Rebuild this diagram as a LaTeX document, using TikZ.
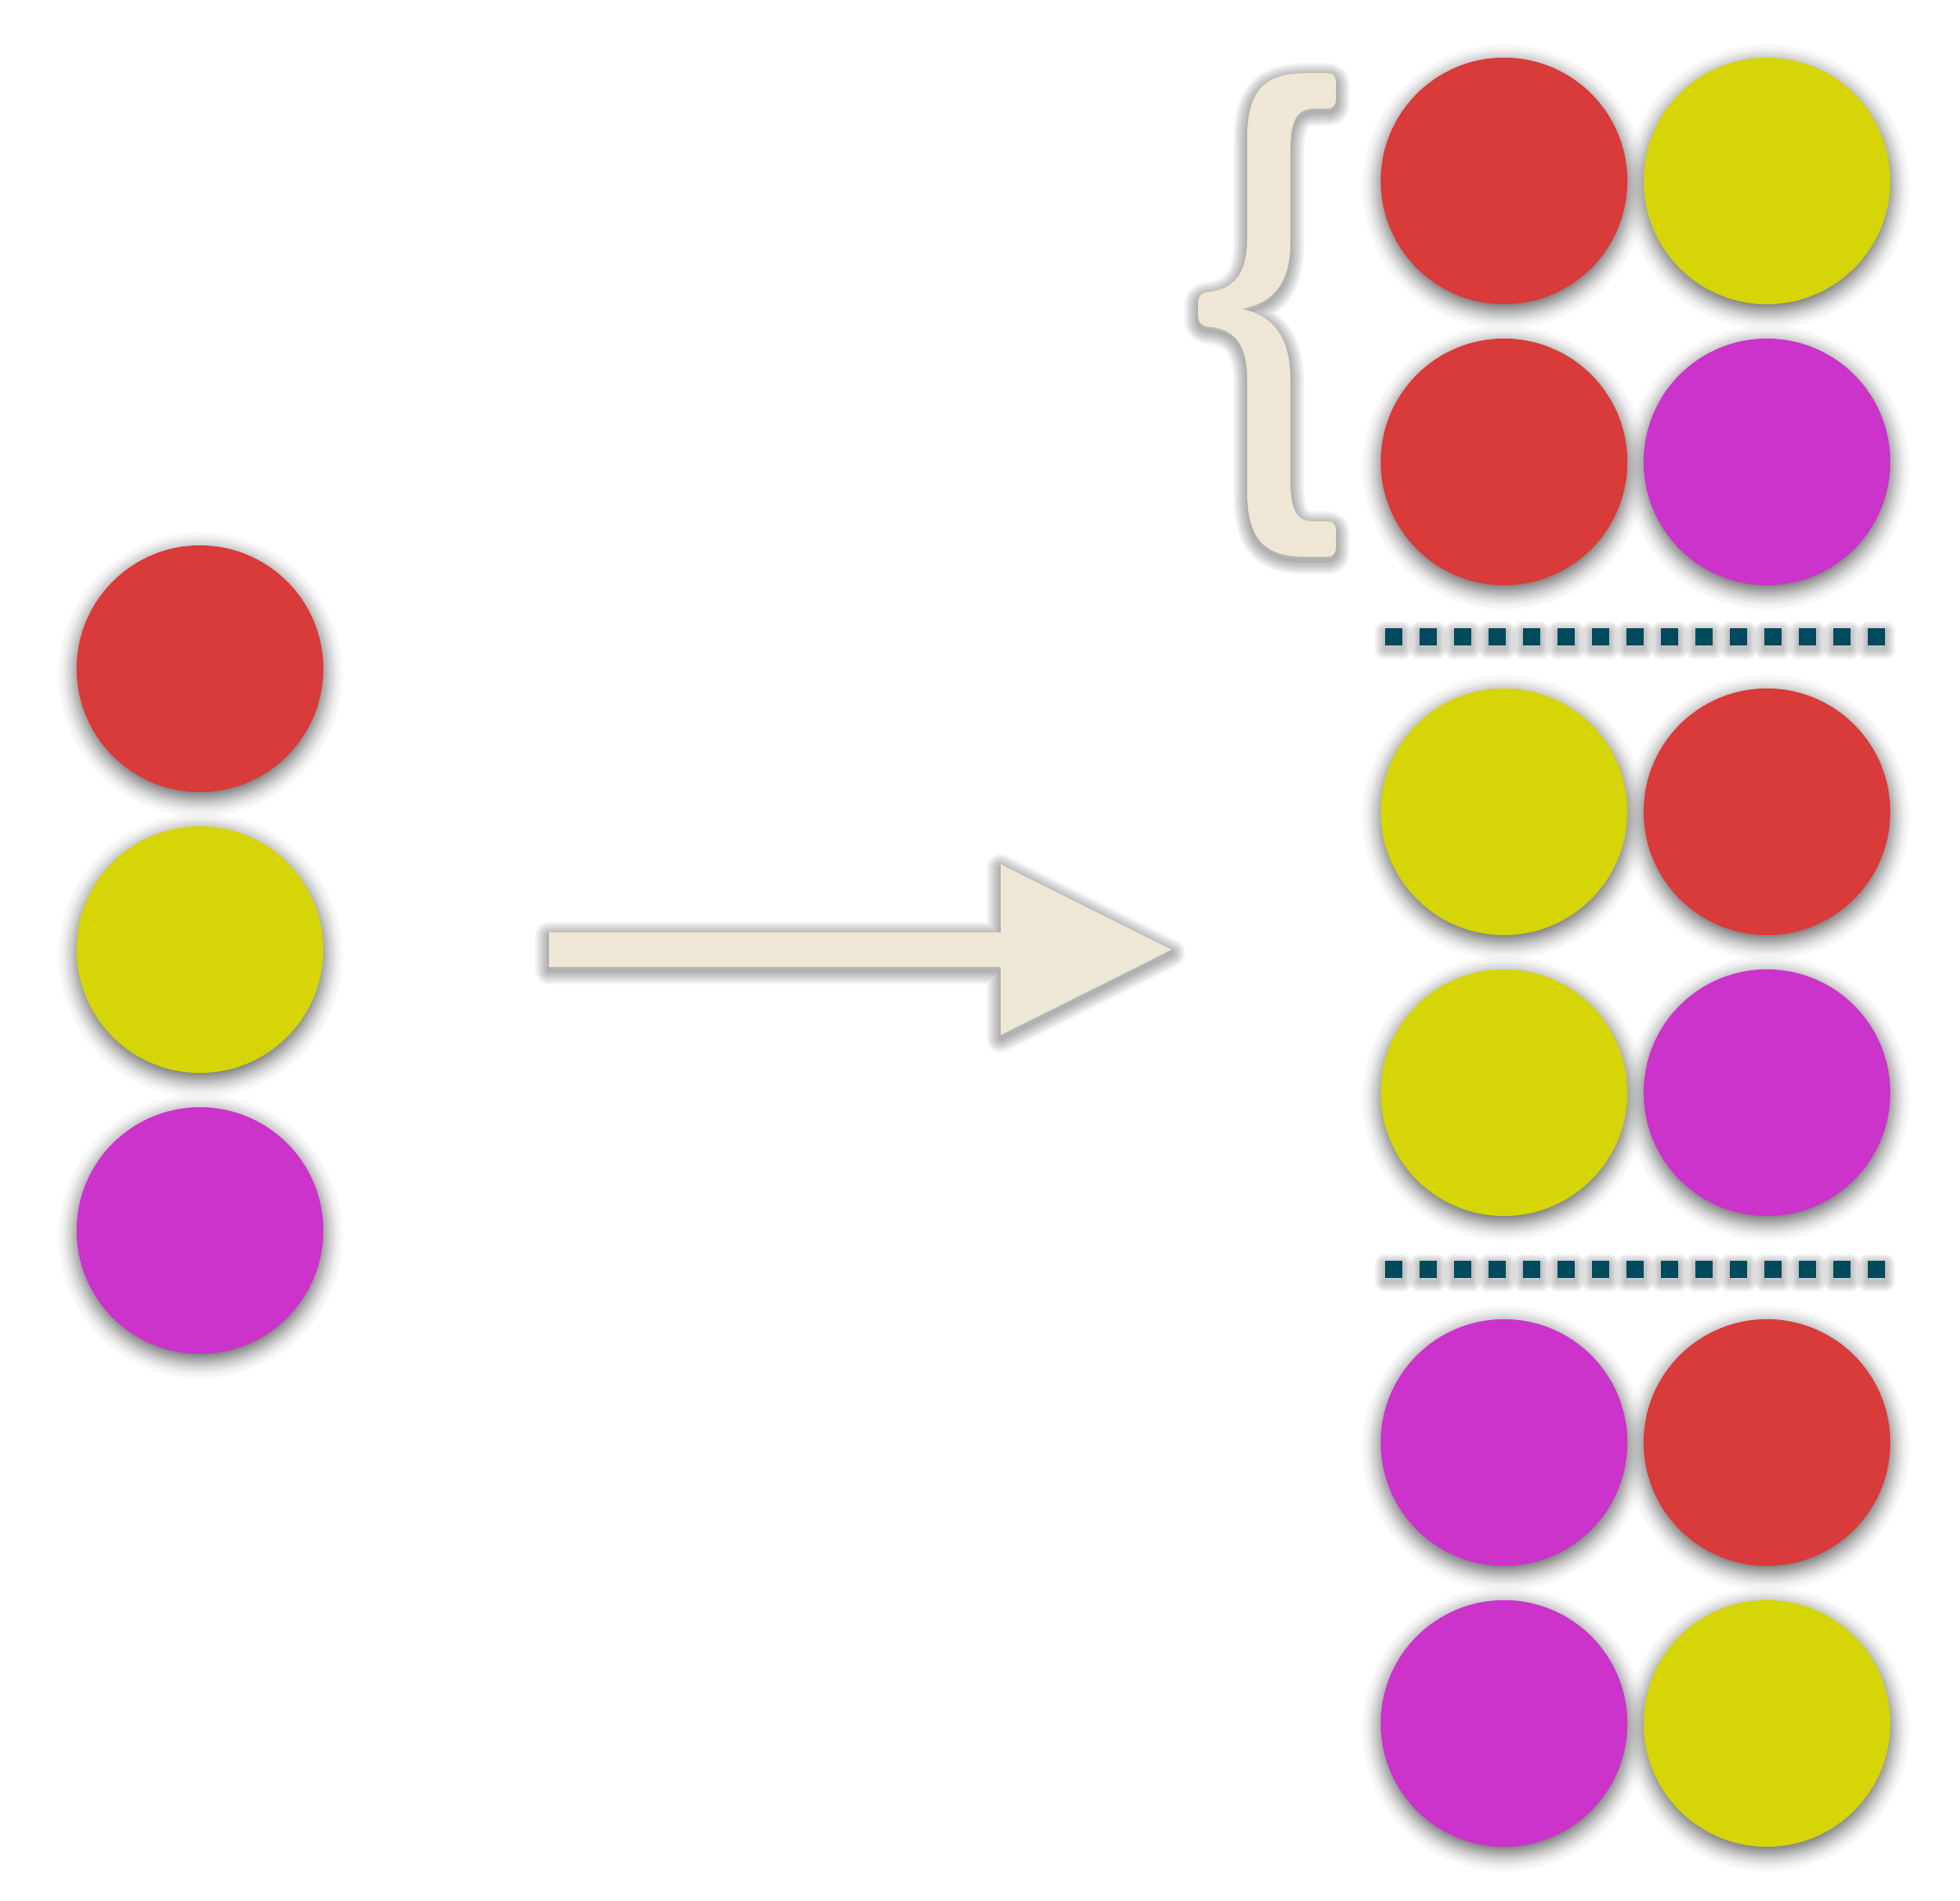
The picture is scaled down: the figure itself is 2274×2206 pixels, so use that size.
\documentclass[tikz,border=0pt]{standalone}
\usetikzlibrary{shadows,fadings}
\definecolor{dotred}{RGB}{217,58,58}
\definecolor{dotyellow}{RGB}{213,213,8}
\definecolor{dotpurple}{RGB}{203,51,203}
\definecolor{cream}{RGB}{238,231,213}
\definecolor{dashteal}{RGB}{0,74,94}
% soft round shadow under the balls
\pgfdeclareradialshading{ballglow}{\pgfpointorigin}{%
  color(0bp)=(pgftransparent!0); color(19.6bp)=(pgftransparent!0);
  color(21.5bp)=(pgftransparent!45); color(22.6bp)=(pgftransparent!70);
  color(23.8bp)=(pgftransparent!90); color(25bp)=(pgftransparent!100)}
\pgfdeclarefading{ballfade}{\pgfuseshading{ballglow}}
\begin{document}
\begin{tikzpicture}[x=0.01cm, y=-0.01cm,
    haze/.style = {preaction={fill=none, draw=black, opacity=.045, line width=#1,
                   line join=round, transform canvas={yshift=-1.2pt}}},
    soft/.style = {haze=3.2mm, haze=2.8mm, haze=2.4mm, haze=2mm,
                   haze=1.6mm, haze=1.2mm, haze=0.8mm, haze=0.4mm},
    ball/.style = {circle, minimum size=2.86cm, inner sep=0pt, fill=#1,
                   general shadow={shadow scale=1.16, shadow yshift=-1.5pt,
                                   fill=black!60, path fading=ballfade}},
    tick/.style = {fill=dashteal, haze=2.4mm, haze=2mm, haze=1.6mm,
                   haze=1.2mm, haze=0.8mm, haze=0.4mm}]
    \fill[white] (0,0) rectangle (2274,2206);
    \useasboundingbox (0,0) rectangle (2274,2206);

    % the three to choose from
    \node [ball=dotred]    (left1) at (232,776)  {};
    \node [ball=dotyellow] (left2) at (232,1102) {};
    \node [ball=dotpurple] (left3) at (232,1428) {};

    \fill[cream, soft] (637,1082) -- (1161,1082) -- (1161,1003) -- (1359,1102)
        -- (1161,1201) -- (1161,1122) -- (637,1122) -- cycle;

    % pairs, first one fixed
    \node [ball=dotred]    (r1a) at (1745,210)  {};
    \node [ball=dotyellow] (r1b) at (2050,210)  {};
    \node [ball=dotred]    (r2a) at (1745,536)  {};
    \node [ball=dotpurple] (r2b) at (2050,536)  {};

    \node [ball=dotyellow] (r3a) at (1745,942)  {};
    \node [ball=dotred]    (r3b) at (2050,942)  {};
    \node [ball=dotyellow] (r4a) at (1745,1268) {};
    \node [ball=dotpurple] (r4b) at (2050,1268) {};

    \node [ball=dotpurple] (r5a) at (1745,1674) {};
    \node [ball=dotred]    (r5b) at (2050,1674) {};
    \node [ball=dotpurple] (r6a) at (1745,2000) {};
    \node [ball=dotyellow] (r6b) at (2050,2000) {};

    % brace over the first group
    \fill[cream, soft] (1540,85) .. controls (1547,85) and (1550,89) .. (1550,96)
        -- (1550,115) .. controls (1550,122) and (1547,126) .. (1540,126)
        -- (1525,126) .. controls (1504,126) and (1497,140) .. (1497,178)
        -- (1497,282) .. controls (1497,330) and (1476,352) .. (1440,358.5)
        .. controls (1478,366) and (1497,392) .. (1497,440)
        -- (1497,556) .. controls (1497,592) and (1504,605) .. (1525,605)
        -- (1540,605) .. controls (1547,605) and (1550,609) .. (1550,616)
        -- (1550,635) .. controls (1550,642) and (1547,646) .. (1540,646)
        -- (1515,646) .. controls (1466,646) and (1447,625) .. (1447,570)
        -- (1447,440) .. controls (1447,397) and (1430,381) .. (1401,379)
        .. controls (1394,378) and (1390,374) .. (1390,367)
        -- (1390,351) .. controls (1390,344) and (1394,340) .. (1401,339)
        .. controls (1430,336) and (1447,320) .. (1447,276)
        -- (1447,160) .. controls (1447,106) and (1466,85) .. (1515,85) -- cycle;

    \foreach \i in {0,...,14} {
        \fill[tick] ({1607+40*\i},729) rectangle ++(20,20);
        \fill[tick] ({1607+40*\i},1463) rectangle ++(20,20);
    }
\end{tikzpicture}
\end{document}
